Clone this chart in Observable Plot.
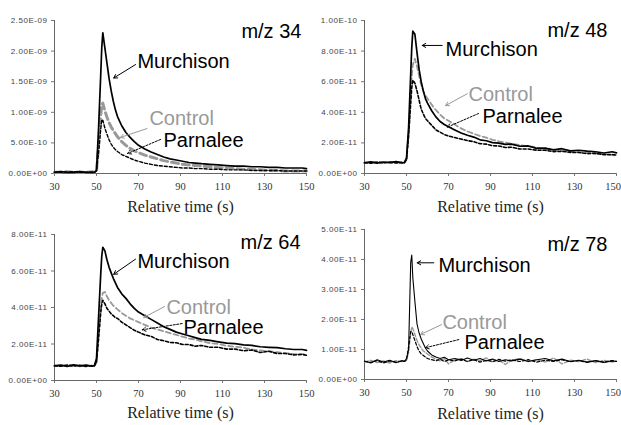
<!DOCTYPE html>
<html><head><meta charset="utf-8">
<script src="https://cdn.jsdelivr.net/npm/d3@7"></script>
<script src="https://cdn.jsdelivr.net/npm/@observablehq/plot@0.6"></script>
<style>
body{margin:0;background:#fff;}
#wrap{position:relative;width:621px;height:425px;overflow:hidden;background:#fff;}
#wrap > div{position:absolute;}
#wrap svg{color:#555;}
#wrap g[aria-label="y-axis tick label"] text{letter-spacing:0.55px;}
</style></head><body><div id="wrap"></div>
<script>
// ---------- DATA ----------
const times = [30,33,36,39,42,45,48, 49,50,51,52,52.5,53, 54,55,56,57,58,59,60, 62,64,66,68,70,
  73,76,79,82,85,88,91,94,97,100, 104,108,112,116,120,124,128,132,136,140,144,148,150];

const panelTitles = ["m/z 34","m/z 48","m/z 64","m/z 78"];
const seriesNames = ["Murchison","Control","Parnalee"];
const xTicks = [30,50,70,90,110,130,150];
const xTitle = "Relative time (s)";
const yMax = [2.5,10,8,5];
const yTicks = [[0,0.5,1,1.5,2,2.5],[0,2,4,6,8,10],[0,2,4,6,8],[0,1,2,3,4,5]];
const yTickLabels = [
  ["0.00E+00","5.00E-10","1.00E-09","1.50E-09","2.00E-09","2.50E-09"],
  ["0.00E+00","2.00E-11","4.00E-11","6.00E-11","8.00E-11","1.00E-10"],
  ["0.00E+00","2.00E-11","4.00E-11","6.00E-11","8.00E-11"],
  ["0.00E+00","1.00E-11","2.00E-11","3.00E-11","4.00E-11","5.00E-11"]
];

// m/z 34 (x1E-09)
const murchison34 = [0.02,0.03,0.02,0.02,0.03,0.02,0.02, 0.02,0.05,0.75,1.60,2.05,2.30, 2.05,1.80,1.55,1.35,1.18,1.04,0.93, 0.78,0.67,0.59,0.52,0.46,
  0.40,0.35,0.31,0.27,0.24,0.22,0.20,0.18,0.17,0.16, 0.15,0.14,0.13,0.12,0.12,0.11,0.11,0.10,0.10,0.09,0.09,0.09,0.08];
const control34 = [0.02,0.02,0.03,0.02,0.02,0.02,0.03, 0.02,0.04,0.45,0.95,1.12,1.15, 1.02,0.92,0.83,0.76,0.70,0.65,0.60, 0.52,0.46,0.41,0.37,0.34,
  0.30,0.27,0.24,0.21,0.19,0.17,0.15,0.14,0.13,0.12, 0.11,0.10,0.09,0.08,0.07,0.07,0.06,0.05,0.05,0.04,0.04,0.04,0.04];
const parnalee34 = [0.02,0.02,0.02,0.03,0.02,0.02,0.02, 0.02,0.04,0.35,0.72,0.88,0.87, 0.74,0.64,0.55,0.48,0.43,0.39,0.36, 0.31,0.28,0.25,0.22,0.20,
  0.17,0.15,0.13,0.12,0.11,0.10,0.09,0.09,0.08,0.08, 0.07,0.07,0.06,0.06,0.06,0.05,0.05,0.05,0.05,0.04,0.04,0.04,0.04];

// m/z 48 (x1E-11)
const murchison48 = [0.70,0.76,0.68,0.75,0.71,0.78,0.69, 0.72,1.00,3.00,6.50,8.20,9.30, 9.10,7.90,6.80,6.00,5.40,4.90,4.60, 4.10,3.70,3.40,3.20,3.05,
  2.85,2.65,2.50,2.38,2.20,2.14,2.02,1.98,1.90,1.92, 1.78,1.80,1.64,1.66,1.54,1.62,1.48,1.52,1.46,1.42,1.34,1.42,1.35];
const control48 = [0.68,0.72,0.75,0.70,0.76,0.72,0.74, 0.72,0.90,2.50,5.00,6.30,7.10, 7.50,7.00,6.40,5.80,5.40,5.10,4.90, 4.50,4.15,3.85,3.60,3.45,
  3.20,2.95,2.75,2.60,2.45,2.35,2.20,2.10,2.02,1.95, 1.85,1.78,1.70,1.62,1.56,1.50,1.46,1.40,1.36,1.30,1.26,1.20,1.15];
const parnalee48 = [0.72,0.68,0.74,0.70,0.73,0.69,0.72, 0.70,0.90,2.50,4.60,5.60,6.10, 5.90,5.40,4.80,4.20,3.90,3.60,3.45, 3.15,2.85,2.70,2.55,2.45,
  2.35,2.25,2.15,2.08,1.95,1.92,1.82,1.80,1.70,1.72, 1.60,1.60,1.52,1.52,1.43,1.45,1.38,1.37,1.30,1.32,1.23,1.24,1.20];

// m/z 64 (x1E-11)
const murchison64 = [0.80,0.85,0.77,0.86,0.80,0.84,0.78, 0.82,1.20,3.50,5.80,6.80,7.30, 7.10,6.60,6.20,5.90,5.60,5.35,5.10, 4.75,4.50,4.20,3.95,3.75,
  3.55,3.35,3.15,2.95,2.80,2.65,2.55,2.45,2.35,2.25, 2.20,2.12,2.05,2.02,1.95,1.92,1.85,1.82,1.80,1.74,1.70,1.70,1.65];
const control64 = [0.78,0.82,0.80,0.84,0.78,0.83,0.80, 0.80,1.00,2.50,4.00,4.50,4.80, 4.85,4.60,4.40,4.25,4.10,4.00,3.90, 3.70,3.55,3.40,3.30,3.20,
  3.05,2.90,2.80,2.70,2.60,2.50,2.40,2.30,2.25,2.15, 2.05,2.00,1.90,1.85,1.80,1.70,1.65,1.60,1.55,1.50,1.45,1.45,1.40];
const parnalee64 = [0.82,0.78,0.85,0.79,0.83,0.77,0.82, 0.80,1.00,2.30,3.70,4.20,4.40, 4.20,3.95,3.80,3.65,3.55,3.45,3.40, 3.20,3.05,2.90,2.75,2.65,
  2.50,2.42,2.25,2.18,2.08,2.07,1.97,1.97,1.88,1.92, 1.82,1.82,1.72,1.72,1.63,1.67,1.53,1.60,1.48,1.48,1.40,1.43,1.38];

// m/z 78 (x1E-11)
const murchison78 = [0.62,0.55,0.66,0.58,0.64,0.56,0.63, 0.60,0.70,1.00,3.90,4.15,3.40, 2.60,1.85,1.55,1.35,1.20,1.05,0.95, 0.82,0.75,0.70,0.74,0.66,
  0.70,0.63,0.72,0.64,0.70,0.62,0.68,0.60,0.66,0.62, 0.68,0.60,0.66,0.70,0.62,0.68,0.60,0.64,0.58,0.63,0.57,0.62,0.60];
const control78 = [0.58,0.64,0.56,0.62,0.55,0.63,0.60, 0.62,0.65,0.90,1.55,1.75,1.70, 1.50,1.30,1.15,1.05,0.95,0.90,0.85, 0.75,0.68,0.62,0.70,0.52,
  0.66,0.70,0.60,0.68,0.62,0.72,0.58,0.66,0.50,0.64, 0.70,0.60,0.66,0.58,0.72,0.52,0.64,0.60,0.68,0.56,0.64,0.58,0.62];
const parnalee78 = [0.60,0.57,0.63,0.55,0.62,0.58,0.61, 0.60,0.65,1.10,1.60,1.60,1.50, 1.30,1.10,0.95,0.85,0.80,0.75,0.70, 0.66,0.62,0.68,0.60,0.65,
  0.62,0.68,0.60,0.66,0.58,0.64,0.60,0.67,0.61,0.65, 0.60,0.66,0.58,0.64,0.60,0.66,0.59,0.63,0.57,0.62,0.58,0.63,0.60];

const murchison = [murchison34, murchison48, murchison64, murchison78];
const control = [control34, control48, control64, control78];
const parnalee = [parnalee34, parnalee48, parnalee64, parnalee78];

// ---------- LAYOUT / ANNOTATION PLACEMENT (data coords) ----------
const layout = [
  {left:0,   top:0,   width:310, height:212, mt:20, mb:39, mr:4, titleDy:38, right:false},
  {left:310, top:0,   width:311, height:212, mt:20, mb:39, mr:5, titleDy:38, right:true},
  {left:0,   top:212, width:310, height:213, mt:22, mb:45, mr:4, titleDy:37, right:false},
  {left:310, top:212, width:311, height:213, mt:17, mb:46, mr:5, titleDy:39, right:true}
];
// label anchors [title, Murchison, Control, Parnalee] as [x, y]
const labelAt = [
  [[119.0,2.22],[69.5,1.716],[75.2,0.80],[81.9,0.425]],
  [[117.1,8.91],[68.6,7.71],[79.5,4.71],[86.2,3.29]],
  [[118.6,7.19],[69.5,6.19],[83.3,3.67],[91.4,2.54]],
  [[117.1,4.28],[65.2,3.59],[67.1,1.67],[77.6,1.02]]
];
// arrows [Murchison, Control, Parnalee] as [x1,y1,x2,y2]
const arrowAt = [
  [[68.6,1.78,58.2,1.56],[74.1,0.735,61.4,0.59],[80.5,0.556,64.8,0.327]],
  [[67.0,8.37,57.5,8.37],[78.9,5.21,68.6,4.44],[84.3,3.92,69.4,3.03]],
  [[68.6,6.65,58.2,5.82],[82.4,4.05,72.5,3.45],[90.8,3.12,71.8,2.78]],
  [[63.0,3.89,55.1,3.89],[66.7,1.83,56.7,1.50],[74.9,1.33,59.0,1.06]]
];
const gray = "#999";
const murchW = [1.7,1.7,1.7,1.1];
const ctrlW = [3,1.8,1.8,1.4];
const ctrlDash = ["7,4","5,3","5,3","4,2"];
const parnW = [1.4,1.6,1.6,1.2];
const serif = "Liberation Serif, Times New Roman, serif";
const sans = "Liberation Sans, Arial, sans-serif";

const wrap = document.getElementById("wrap");
for (let i = 0; i < 4; i++) {
  const L = layout[i];
  const rows = (arr) => times.map((t, j) => ({t, v: arr[j]}));
  const labels = [
    {x: labelAt[i][0][0], y: labelAt[i][0][1], text: panelTitles[i], fill: "#000"},
    {x: labelAt[i][1][0], y: labelAt[i][1][1], text: seriesNames[0], fill: "#000"},
    {x: labelAt[i][2][0], y: labelAt[i][2][1], text: seriesNames[1], fill: gray},
    {x: labelAt[i][3][0], y: labelAt[i][3][1], text: seriesNames[2], fill: "#000"}
  ];
  const arr = (k) => [{x1: arrowAt[i][k][0], y1: arrowAt[i][k][1], x2: arrowAt[i][k][2], y2: arrowAt[i][k][3]}];
  const mainTicks = L.right ? xTicks.slice(0, -1) : xTicks;
  const xAxisMarks = [
    Plot.axisX(xTicks, {tickSize: 3, text: null, label: null, stroke: "#777"}),
    Plot.axisX(mainTicks, {tickSize: 0, tickPadding: 9, label: null, tickFormat: d => String(d),
      fontSize: 10.5, fontFamily: serif, fill: "#333"})
  ];
  if (L.right) {
    xAxisMarks.push(Plot.axisX(xTicks.slice(-1), {tickSize: 0, tickPadding: 9, label: null, tickFormat: d => String(d),
      fontSize: 10.5, fontFamily: serif, fill: "#333", dx: -3.5}));
  }
  const chart = Plot.plot({
    width: L.width, height: L.height,
    marginLeft: 54, marginRight: L.mr, marginTop: L.mt, marginBottom: L.mb,
    style: {background: "transparent", overflow: "visible"},
    x: {domain: [30, 150], label: null},
    y: {domain: [0, yMax[i]], label: null},
    marks: [
      Plot.axisY(yTicks[i], {tickSize: 3, tickPadding: 4, label: null,
        tickFormat: d => yTickLabels[i][yTicks[i].indexOf(d)],
        fontSize: 8, fontFamily: sans, stroke: "#777", fill: "#444"}),
      ...xAxisMarks,
      Plot.ruleX([30], {stroke: "#666"}),
      Plot.ruleY([0], {stroke: "#666"}),
      Plot.line(rows(control[i]), {x: "t", y: "v", stroke: gray, strokeWidth: ctrlW[i], strokeDasharray: ctrlDash[i]}),
      Plot.line(rows(parnalee[i]), {x: "t", y: "v", stroke: "#000", strokeWidth: parnW[i], strokeDasharray: "3,2"}),
      Plot.line(rows(murchison[i]), {x: "t", y: "v", stroke: "#000", strokeWidth: murchW[i]}),
      Plot.arrow(arr(0), {x1: "x1", y1: "y1", x2: "x2", y2: "y2", stroke: "#000", strokeWidth: 1, headLength: 6}),
      Plot.arrow(arr(1), {x1: "x1", y1: "y1", x2: "x2", y2: "y2", stroke: gray, strokeWidth: 1, headLength: 6}),
      Plot.arrow(arr(2), {x1: "x1", y1: "y1", x2: "x2", y2: "y2", stroke: "#000", strokeWidth: 1, headLength: 6, strokeDasharray: "2,1.5"}),
      Plot.text(labels, {x: "x", y: "y", text: "text", fill: "fill", textAnchor: "start", lineAnchor: "bottom",
        fontSize: 20, fontFamily: sans}),
      Plot.text([xTitle], {frameAnchor: "bottom", dy: L.titleDy, fontSize: 16, fontFamily: serif, fill: "#222"})
    ]
  });
  const holder = document.createElement("div");
  holder.style.left = L.left + "px";
  holder.style.top = L.top + "px";
  holder.appendChild(chart);
  wrap.appendChild(holder);
}
</script>
</body></html>
